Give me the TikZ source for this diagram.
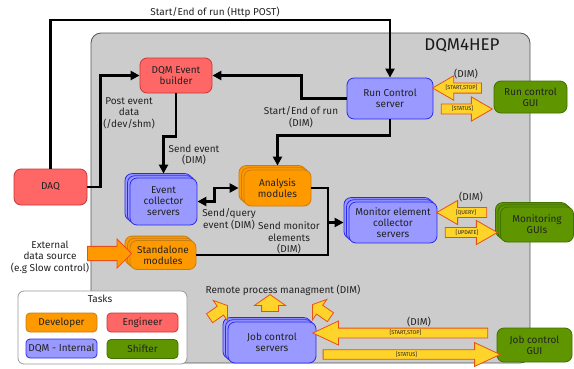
\documentclass[tikz,border=0pt]{standalone}
\usepackage{fontspec}
\setmainfont{Fira Sans}
\usetikzlibrary{arrows.meta,shapes.arrows,shadows}
\definecolor{redf}{HTML}{FF6666}
\definecolor{redd}{HTML}{C83737}
\definecolor{bluef}{HTML}{9999FF}
\definecolor{blued}{HTML}{2A2AEE}
\definecolor{orf}{HTML}{FF9900}
\definecolor{ord}{HTML}{C87D10}
\definecolor{grf}{HTML}{5F9600}
\definecolor{grd}{HTML}{3F7000}
\definecolor{bgf}{HTML}{CCCCCC}
\definecolor{bgd}{HTML}{555555}
\definecolor{yf}{HTML}{FFD42A}
\definecolor{yd}{HTML}{E8501A}
\definecolor{txt}{HTML}{222222}
\begin{document}
\begin{tikzpicture}[x=1pt,y=-1pt,
  box/.style={rounded corners=7pt, line width=0.8pt, align=center,
    font=\fontsize{10}{11}\selectfont, text=txt, inner sep=1pt},
  redbox/.style={box, fill=redf, draw=redd},
  bluebox/.style={box, fill=bluef, draw=blued},
  orbox/.style={box, fill=orf, draw=ord},
  grbox/.style={box, fill=grf, draw=grd},
  stackblue/.style={bluebox, double copy shadow={shadow xshift=-2.5pt, shadow yshift=2.2pt, fill=bluef, draw=blued, line width=0.8pt}},
  stackor/.style={orbox, double copy shadow={shadow xshift=-2.5pt, shadow yshift=2.2pt, fill=orf, draw=ord, line width=0.8pt}},
  stackgr/.style={grbox, double copy shadow={shadow xshift=-2.5pt, shadow yshift=2.2pt, fill=grf, draw=grd, line width=0.8pt}},
  legbox/.style={box, rounded corners=4pt, minimum width=71pt, minimum height=19pt},
  lbl/.style={align=center, font=\fontsize{10}{11.5}\selectfont, text=txt, inner sep=0pt},
  conn/.style={line width=2.5pt, -{Triangle[length=9pt,width=9pt]}},
  conntwo/.style={line width=2.5pt, {Triangle[length=9pt,width=9pt]}-{Triangle[length=9pt,width=9pt]}},
  plain/.style={line width=2.5pt},
  yarrow/.style={single arrow, draw=yd, fill=yf, line width=0.8pt,
    font=\fontsize{5.5}{6}\selectfont, text=txt, inner xsep=1pt, inner ysep=2pt,
    single arrow tip angle=60},
  bigarrow/.style={yarrow, single arrow tip angle=50, inner ysep=1.8pt},
  stubarrow/.style={single arrow, draw=yd, fill=yf, line width=0.8pt, inner xsep=0pt, inner ysep=5pt,
    single arrow tip angle=110}
]
\useasboundingbox (0,0) rectangle (574,368);
% background frame
\draw[fill=bgf, draw=bgd, line width=0.8pt, rounded corners=10pt] (91,33) rectangle (530,363);
\node[font=\fontsize{17}{17}\selectfont, text=black!90, inner sep=0pt] (title) at (462,45) {DQM4HEP};

% nodes
\node[redbox, minimum width=72pt, minimum height=35pt] (deb) at (176,75.5) {DQM Event\\builder};
\node[redbox, minimum width=73pt, minimum height=36pt] (daq) at (50.5,187) {DAQ};
\node[bluebox, minimum width=86pt, minimum height=41pt] (rc) at (390,98.5) {Run Control\\server};
\node[grbox, minimum width=73pt, minimum height=32pt] (rcg) at (530.5,97) {Run control\\GUI};
\node[stackblue, minimum width=67pt, minimum height=47pt] (ec) at (163.5,201.5) {Event\\collector\\servers};
\node[stackor, minimum width=67pt, minimum height=36pt] (ana) at (277.5,188) {Analysis\\modules};
\node[stackor, minimum width=66pt, minimum height=29pt] (sa) at (163,255) {Standalone\\modules};
\node[stackblue, minimum width=88pt, minimum height=41pt] (mec) at (393,222.5) {Monitor element\\collector\\servers};
\node[stackgr, minimum width=73pt, minimum height=35pt] (mg) at (537,224.5) {Monitoring\\GUIs};
\node[stackblue, minimum width=88pt, minimum height=41pt] (jc) at (272,342.5) {Job control\\servers};
\node[grbox, minimum width=75pt, minimum height=34pt] (jcg) at (534.5,345) {Job control\\GUI};

% legend
\node[draw=gray!80, fill=white, line width=0.8pt, rounded corners=6pt, minimum width=169pt, minimum height=73pt] (tasks) at (102.5,327.5) {};
\node[lbl] (taskslbl) at (100,299) {Tasks};
\node[legbox, fill=orf, draw=ord] (ldev) at (61.5,322.5) {Developer};
\node[legbox, fill=redf, draw=redd] (leng) at (142.5,322.5) {Engineer};
\node[legbox, fill=bluef, draw=blued] (ldqm) at (61.5,348.5) {DQM - Internal};
\node[legbox, fill=grf, draw=grd] (lshift) at (142.5,349) {Shifter};

% connectors
\coordinate (topc) at (0,20);
\draw[conn] (daq.north) -- (daq.north |- topc) -| (rc.north);
\node[lbl] (l1) at (215,12) {Start/End of run (Http POST)};

\draw[conn] (daq.east) -- ++(13pt,0) |- (deb.west);
\node[lbl] (l2) at (129,113) {Post event\\data\\(/dev/shm)};

\draw[conn] (rc.west) -- ++(-45pt,0) |- (deb.east);

\draw[conn] (rc.south) -- ++(0,16) -| ([yshift=4pt]ana.north);
\node[lbl] (l3) at (301,117) {Start/End of run\\(DIM)};

\draw[conn] (deb.south) -- ++(0,43) -| ([yshift=4pt]ec.north);
\node[lbl] (l4) at (194,155) {Send event\\(DIM)};

\draw[conntwo] (ec.east) -- ++(17pt,0) |- ([xshift=-5pt]ana.west);
\node[lbl] (l5) at (229,219) {Send/query\\event (DIM)};

\coordinate (jn) at (328,222.5);
\draw[plain] (ana.east) -| (jn);
\draw[plain] (sa.east) -| (jn);
\draw[conn] (jn) -- ([xshift=-5pt]mec.west);
\node[lbl] (l6) at (289,238) {Send monitor\\elements\\(DIM)};

% external data source
\node[single arrow, draw=yd, fill=orf, line width=0.8pt, minimum height=44pt, minimum width=29pt,
  inner xsep=0pt, inner ysep=6.5pt] (ext) at (106,253.5) {};
\node[lbl] (l7) at (50,257) {External\\data source\\(e.g Slow control)};

% DIM arrows
\node[lbl] (d1) at (466,74) {(DIM)};
\node[yarrow, shape border rotate=180, minimum height=49pt, minimum width=16pt] (a1) at (461.5,88) {[START,STOP]};
\node[yarrow, minimum height=51pt, minimum width=18pt] (a2) at (462.5,109) {[STATUS]};
\node[lbl] (d2) at (471,197) {(DIM)};
\node[yarrow, shape border rotate=180, minimum height=50pt, minimum width=19pt] (a3) at (466,212.5) {[QUERY]};
\node[yarrow, minimum height=52pt, minimum width=19pt] (a4) at (467,232.5) {[UPDATE]};
\node[lbl] (d3) at (419,322) {(DIM)};
\node[bigarrow, shape border rotate=180, minimum height=175pt, minimum width=20pt] (a5) at (405.5,333) {[START,STOP]};
\node[bigarrow, minimum height=177pt, minimum width=20pt] (a6) at (406.5,354.5) {[STATUS]};

% remote process management
\node[lbl] (l8) at (283,290) {Remote process managment (DIM)};
\node[stubarrow, rotate=35, minimum height=22pt, minimum width=24pt] (s1) at (217,313) {};
\node[stubarrow, rotate=90, minimum height=17pt, minimum width=30pt, inner ysep=8pt] (s2) at (270,306) {};
\node[stubarrow, rotate=145, minimum height=22pt, minimum width=24pt] (s3) at (323,312) {};
\end{tikzpicture}
\end{document}
